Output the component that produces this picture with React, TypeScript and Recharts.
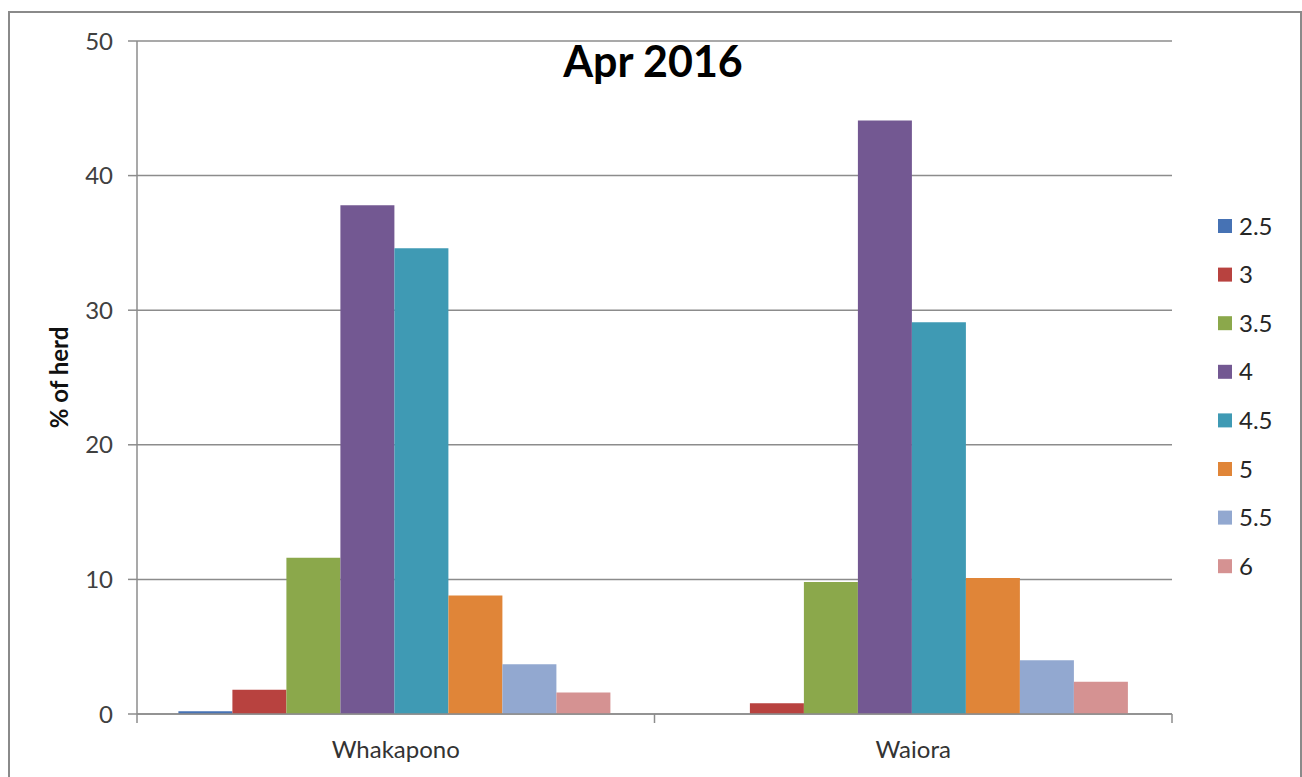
import React from 'react';
import { BarChart, Bar, XAxis, YAxis, CartesianGrid } from 'recharts';

const categories = ['Whakapono', 'Waiora'];
const scoreLabels = ['2.5', '3', '3.5', '4', '4.5', '5', '5.5', '6'];
const whakapono = [0.2, 1.8, 11.6, 37.8, 34.6, 8.8, 3.7, 1.6];
const waiora = [0, 0.8, 9.8, 44.1, 29.1, 10.1, 4.0, 2.4];
const colors = ['#4672B4', '#B8423F', '#8BA84B', '#735892', '#3F9AB4', '#E08538', '#92A8D0', '#D59292'];
const yTicks = [0, 10, 20, 30, 40, 50];

const seriesByCategory = [whakapono, waiora];

const data = categories.map((name, i) => {
  const row: Record<string, string | number> = { name };
  scoreLabels.forEach((_, j) => {
    row['s' + j] = seriesByCategory[i][j];
  });
  return row;
});

const FONT = 'Lato, "Open Sans", sans-serif';
const GRAY = '#8c8c8c';

const W = 1302;
const H = 777;
const margin = { top: 41, right: 130, bottom: 0, left: 0 };
const xAxisHeight = 63;
const yAxisWidth = 137;

function XTick(props: any) {
  const { x, y, payload, index } = props;
  const half =
    payload && typeof payload.offset === 'number' && payload.offset > 0
      ? payload.offset
      : (W - margin.right - yAxisWidth) / categories.length / 2;
  return (
    <g>
      <line x1={x - half} x2={x - half} y1={y} y2={y + 9} stroke={GRAY} strokeWidth={1.5} />
      {index === categories.length - 1 && (
        <line x1={x + half} x2={x + half} y1={y} y2={y + 9} stroke={GRAY} strokeWidth={1.5} />
      )}
      <text x={x} y={y + 44} textAnchor="middle" fontSize={24} fill="#333" fontFamily={FONT}>
        {payload.value}
      </text>
    </g>
  );
}

export default function App() {
  return (
    <div
      style={{
        position: 'absolute',
        left: 0,
        top: 0,
        width: W,
        height: H,
        overflow: 'hidden',
        background: '#fff',
        fontFamily: FONT,
      }}
    >
      <div
        style={{
          position: 'absolute',
          left: 8,
          top: 11,
          width: 1290,
          height: 800,
          border: '2px solid #8a8a8a',
        }}
      />
      <div style={{ position: 'absolute', left: 0, top: 0 }}>
        <BarChart width={W} height={H} data={data} margin={margin} barCategoryGap="8%" barGap={0}>
          <CartesianGrid vertical={false} stroke={GRAY} strokeWidth={1.5} />
          <XAxis
            dataKey="name"
            axisLine={{ stroke: GRAY, strokeWidth: 1.5 }}
            tickLine={false}
            tickSize={0}
            tickMargin={0}
            tick={<XTick />}
            interval={0}
            height={xAxisHeight}
          />
          <YAxis
            width={yAxisWidth}
            domain={[0, 50]}
            ticks={yTicks}
            interval={0}
            axisLine={{ stroke: GRAY, strokeWidth: 1.5 }}
            tickLine={{ stroke: GRAY, strokeWidth: 1.5 }}
            tickSize={9}
            tickMargin={15}
            tick={{ fontSize: 24, fill: '#404040', fontFamily: FONT }}
            label={{
              value: '% of herd',
              angle: -90,
              position: 'center',
              dx: -9,
              style: { fontSize: 24, fontWeight: 700, fill: '#111', fontFamily: FONT },
            }}
          />
          {scoreLabels.map((label, j) => (
            <Bar key={label} dataKey={'s' + j} name={label} fill={colors[j]} isAnimationActive={false} />
          ))}
        </BarChart>
      </div>
      <svg
        width={W}
        height={H}
        style={{ position: 'absolute', left: 0, top: 0, pointerEvents: 'none' }}
      >
        <text x={653} y={77} textAnchor="middle" fontSize={43} fontWeight={700} fill="#000" fontFamily={FONT}>
          Apr 2016
        </text>
        {scoreLabels.map((label, j) => {
          const cy = 226 + j * 48.6;
          return (
            <g key={label}>
              <rect x={1218} y={cy - 7} width={14} height={14} fill={colors[j]} />
              <text x={1239} y={cy + 8.5} fontSize={24} fill="#262626" fontFamily={FONT}>
                {label}
              </text>
            </g>
          );
        })}
      </svg>
    </div>
  );
}
